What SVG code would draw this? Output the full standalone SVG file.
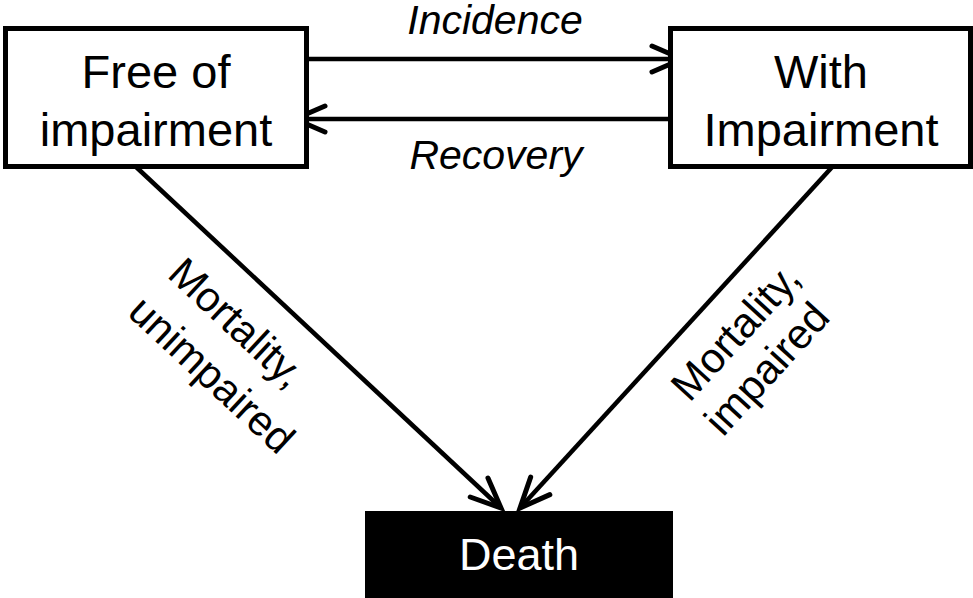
<svg xmlns="http://www.w3.org/2000/svg" width="973" height="598" viewBox="0 0 973 598">
<style>
.box{fill:#fff;stroke:#000;stroke-width:5}
.lbl{font-family:"Liberation Sans",Arial,sans-serif;font-size:47px;fill:#000;text-anchor:middle}
.it{font-family:"Liberation Sans",Arial,sans-serif;font-size:41px;font-style:italic;fill:#000;text-anchor:middle}
.rot{font-family:"Liberation Sans",Arial,sans-serif;font-size:42px;fill:#000;text-anchor:middle}
.edge{stroke:#000;stroke-width:4.5;fill:none;marker-end:url(#ah)}
</style>
<defs>
<marker id="ah" markerUnits="userSpaceOnUse" markerWidth="50" markerHeight="50" viewBox="-40 -25 50 50" refX="0" refY="0" orient="auto">
<path d="M-30,-13 L0,0 L-30,13" fill="none" stroke="#000" stroke-width="5" stroke-linecap="round" stroke-linejoin="miter"/>
</marker>
</defs>
<rect width="973" height="598" fill="#fff"/>
<g id="connectors">
<line class="edge" x1="292" y1="59" x2="682" y2="59"/>
<line class="edge" x1="685" y1="119" x2="295" y2="119"/>
<line class="edge" x1="134" y1="165" x2="501" y2="508"/>
<line class="edge" x1="834" y1="165" x2="520" y2="508"/>
</g>
<g id="node-free">
<rect class="box" x="5.5" y="28.5" width="301" height="138"/>
<text class="lbl" x="156" y="88">Free of</text>
<text class="lbl" x="156" y="146">impairment</text>
</g>
<g id="node-with">
<rect class="box" x="670.5" y="28.5" width="300" height="138"/>
<text class="lbl" x="821" y="88">With</text>
<text class="lbl" x="821" y="146">Impairment</text>
</g>
<g id="node-death">
<rect x="365" y="511" width="308" height="87" fill="#000"/>
<text class="lbl" x="519" y="570" style="fill:#fff;font-size:45px">Death</text>
</g>
<g id="labels">
<text class="it" x="495" y="34">Incidence</text>
<text class="it" x="496" y="169">Recovery</text>
<g transform="translate(215,352) rotate(43)">
<text class="rot" x="-4" y="-22">Mortality,</text>
<text class="rot" x="13" y="33">unimpaired</text>
</g>
<g transform="translate(753,356) rotate(-47.6)">
<text class="rot" x="6" y="-15">Mortality,</text>
<text class="rot" x="0" y="33">impaired</text>
</g>
</g>
</svg>
